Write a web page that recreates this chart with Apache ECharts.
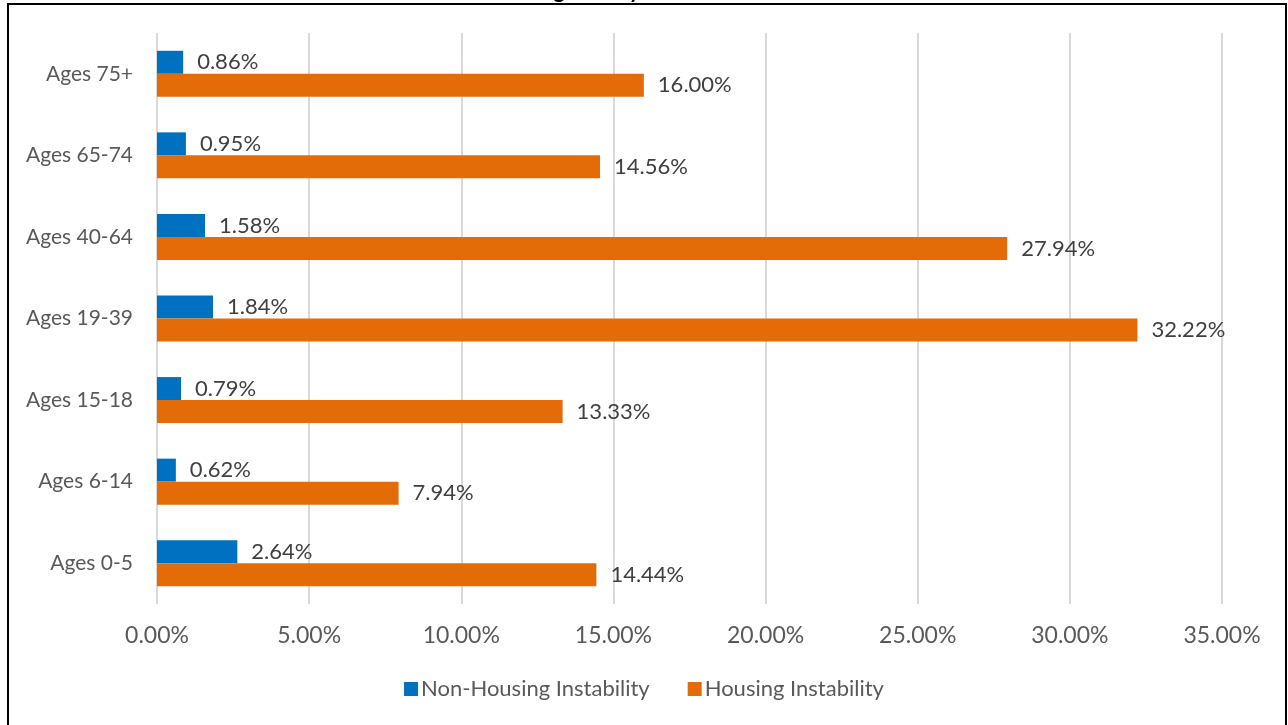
<!DOCTYPE html>
<html>
<head>
<meta charset="utf-8">
<title>Instability by Age Group</title>
<script src="https://cdn.jsdelivr.net/npm/echarts@6/dist/echarts.min.js"></script>
<style>
  html, body { margin: 0; padding: 0; background: #ffffff; }
  #chart { width: 1288px; height: 725px; }
</style>
</head>
<body>
<div id="chart"></div>
<script>
// Age groups, bottom to top on the category axis
const categories = ['Ages 0-5', 'Ages 6-14', 'Ages 15-18', 'Ages 19-39', 'Ages 40-64', 'Ages 65-74', 'Ages 75+'];
// Percent of each age group
const nonHousing = [2.64, 0.62, 0.79, 1.84, 1.58, 0.95, 0.86];
const housing = [14.44, 7.94, 13.33, 32.22, 27.94, 14.56, 16.00];
const seriesNames = ['Non-Housing Instability', 'Housing Instability'];
const titleText = 'Housing Risk by Cohort';

const FONT = 'Lato, "Open Sans", sans-serif';
const TEXT = '#595959';
const pct = v => Number(v).toFixed(2) + '%';

const chart = echarts.init(document.getElementById('chart'), null, { renderer: 'canvas' });

const barLabel = {
  show: true,
  position: 'right',
  distance: 14,
  color: '#404040',
  fontFamily: FONT,
  fontSize: 22,
  formatter: p => pct(p.value)
};

chart.setOption({
  animation: false,
  backgroundColor: '#ffffff',
  textStyle: { fontFamily: FONT },
  grid: { left: 157, right: 66, top: 33, bottom: 121, containLabel: false, outerBoundsMode: 'none' },
  legend: {
    data: seriesNames,
    bottom: 20,
    left: 'center',
    itemWidth: 14,
    itemHeight: 14,
    itemGap: 38,
    icon: 'rect',
    textStyle: { color: TEXT, fontSize: 22, fontFamily: FONT, padding: [0, 0, 0, -2] }
  },
  xAxis: {
    type: 'value',
    min: 0,
    max: 35,
    interval: 5,
    axisLine: { show: false },
    axisTick: { show: false },
    splitLine: { show: true, lineStyle: { color: '#d9d9d9', width: 2 } },
    axisLabel: { color: TEXT, fontSize: 23, fontFamily: FONT, margin: 20, formatter: v => pct(v) }
  },
  yAxis: {
    type: 'category',
    data: categories,
    axisLine: { show: false },
    axisTick: { show: false },
    axisLabel: { color: TEXT, fontSize: 21, fontFamily: FONT, margin: 24 }
  },
  series: [
    {
      name: seriesNames[0],
      type: 'bar',
      data: nonHousing,
      barWidth: 23,
      barGap: '0%',
      itemStyle: { color: '#0070c0' },
      label: barLabel
    },
    {
      name: seriesNames[1],
      type: 'bar',
      data: housing,
      barWidth: 23,
      barGap: '0%',
      itemStyle: { color: '#e36c09' },
      label: barLabel
    }
  ],
  graphic: [
    {
      type: 'text',
      left: 484,
      top: -20,
      silent: true,
      style: { text: titleText, fill: '#000000', font: 'bold 22px ' + FONT }
    },
    {
      type: 'rect',
      silent: true,
      shape: { x: 8, y: 4, width: 1278, height: 740 },
      style: { fill: 'none', stroke: '#000000', lineWidth: 2 }
    }
  ]
});
</script>
</body>
</html>
